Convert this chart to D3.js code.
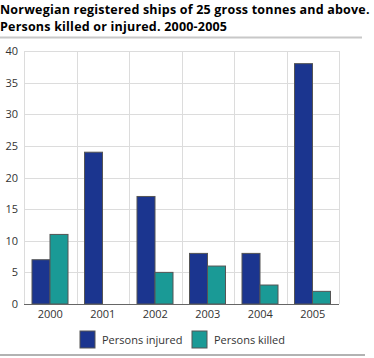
<!DOCTYPE html>
<html><head><meta charset="utf-8">
<script src="https://cdn.jsdelivr.net/npm/d3@7"></script>
<style>body{margin:0;background:#fff}svg{display:block}text{font-family:"Open Sans",sans-serif}</style>
</head><body><svg id="c" width="374" height="358"></svg>
<script>
const categories = ["2000","2001","2002","2003","2004","2005"];
const seriesNames = ["Persons injured","Persons killed"];
const injured = [7,24,17,8,8,38];
const killed = [11,0,5,6,3,2];
const yTicks = [0,5,10,15,20,25,30,35,40];
const titleLines = ["Norwegian registered ships of 25 gross tonnes and above.","Persons killed or injured. 2000-2005"];
const colors = ["#1b358f","#1a9a96"];

const svg = d3.select("#c");
const L=24,R=339,T=51,B=304;
const x = d3.scaleBand().domain(categories).range([L,R]).padding(0);
const xs = d3.scaleBand().domain(seriesNames).range([8,x.bandwidth()-8.5]).padding(0);
const y = d3.scaleLinear().domain([0,40]).range([B,T]);

// title
svg.append("g").selectAll("text").data(titleLines).join("text")
  .attr("x",0).attr("y",(d,i)=>13.5+i*17)
  .attr("font-weight","bold").attr("font-size",12.5).attr("letter-spacing",0.2).attr("fill","#000")
  .text(d=>d);
svg.append("line").attr("x1",0).attr("x2",362).attr("y1",37.5).attr("y2",37.5).attr("stroke","#c8c8c8").attr("stroke-width",2);

// gridlines
svg.append("g").selectAll("line").data(yTicks.filter(d=>d>0)).join("line")
  .attr("x1",L).attr("x2",R).attr("y1",d=>Math.round(y(d))+0.5).attr("y2",d=>Math.round(y(d))+0.5)
  .attr("stroke","#dcdcdc");
svg.append("g").selectAll("line").data(categories).join("line")
  .attr("x1",d=>Math.round(x(d))+0.5).attr("x2",d=>Math.round(x(d))+0.5).attr("y1",T).attr("y2",B)
  .attr("stroke","#dcdcdc");
svg.append("line").attr("x1",R+0.5).attr("x2",R+0.5).attr("y1",T).attr("y2",B).attr("stroke","#dcdcdc");

// y axis
const ya = svg.append("g").attr("transform",`translate(${L},0)`).call(d3.axisLeft(y).tickValues(yTicks).tickSize(0).tickPadding(6));
ya.select(".domain").remove();
ya.selectAll("text").attr("font-size",11).attr("fill","#333").attr("font-family","'Open Sans',sans-serif");

// bars
const data = categories.map((c,i)=>({c, vals:[injured[i],killed[i]]}));
const g = svg.append("g").selectAll("g").data(data).join("g").attr("transform",d=>`translate(${x(d.c)},0)`);
g.selectAll("rect").data(d=>d.vals.map((v,j)=>({v,s:seriesNames[j],j}))).join("rect")
  .attr("x",d=>xs(d.s)).attr("width",xs.bandwidth())
  .attr("y",d=>y(d.v)).attr("height",d=>B-y(d.v))
  .attr("fill",d=>colors[d.j]).attr("stroke","#555").attr("stroke-width",1);

// x axis
svg.append("line").attr("x1",L).attr("x2",R).attr("y1",B+0.5).attr("y2",B+0.5).attr("stroke","#666");
const xa = svg.append("g").attr("transform",`translate(0,${B})`).call(d3.axisBottom(x).tickSize(0).tickPadding(6));
xa.select(".domain").remove();
xa.selectAll("text").attr("font-size",11).attr("fill","#333").attr("font-family","'Open Sans',sans-serif");

// legend
const legX=[80,192];
const lg = svg.append("g").selectAll("g").data(seriesNames).join("g").attr("transform",(d,i)=>`translate(${legX[i]},331)`);
lg.append("rect").attr("width",15).attr("height",17).attr("fill",(d,i)=>colors[i]).attr("stroke","#555");
lg.append("text").attr("x",22).attr("y",13).attr("font-size",11).attr("fill","#333").text(d=>d);

svg.append("line").attr("x1",0).attr("x2",365).attr("y1",355).attr("y2",355).attr("stroke","#999").attr("stroke-width",1.5);
</script></body></html>
